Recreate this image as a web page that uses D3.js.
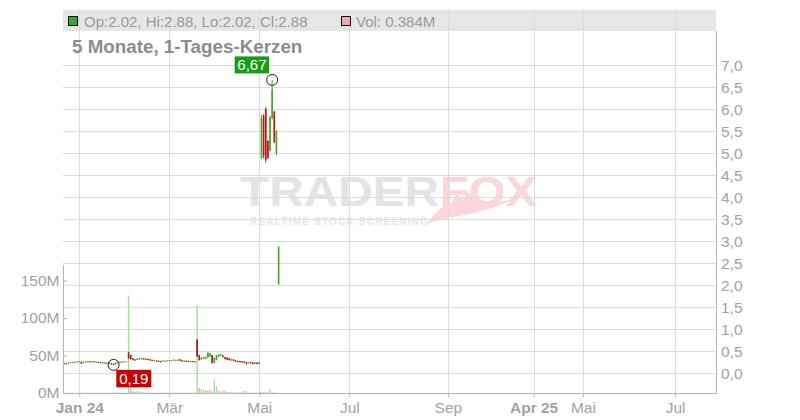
<!DOCTYPE html>
<html><head><meta charset="utf-8">
<script src="https://cdn.jsdelivr.net/npm/d3@7"></script>
<style>
html,body{margin:0;padding:0;background:#fff;}
svg{display:block;font-family:"Liberation Sans",Arial,sans-serif;}
</style></head><body>
<svg id="c" width="800" height="420"></svg>
<script>
// trading-day index of first candle (0 = first trading day of Jan 2024)
const firstIndex = -7;
const opens  = [.23,.22,.22,.23,.24,.25,.25,.26,.26,.23,.25,.26,.27,.26,.27,.25,.26,.25,.24,.24,.23,.24,.22,.21,.20,.23,.24,.25,.25,.26,
                .47,.41,.34,.31,.30,.31,.32,.34,.33,.32,.31,.30,.29,.29,.28,.27,.27,.28,.27,.28,.28,.29,.30,.29,.31,.29,.28,.28,.28,.27,.27,.27,
                .76,.41,.31,.32,.33,.36,.38,.41,.24,.30,.37,.40,.40,.37,.35,.34,.30,.31,.29,.28,.27,.27,.26,.25,.23,.25,.24,.22,.24,.21,
                4.90,5.85,6.00,5.28,5.06,5.80,5.95,5.00,2.02];
const highs  = [.23,.22,.24,.25,.26,.26,.27,.27,.26,.26,.27,.27,.27,.27,.27,.26,.26,.25,.25,.24,.24,.24,.23,.22,.24,.26,.26,.27,.27,.27,
                .48,.42,.34,.32,.33,.35,.35,.34,.33,.33,.32,.31,.30,.29,.29,.28,.29,.29,.29,.30,.30,.31,.31,.31,.32,.30,.29,.29,.28,.28,.27,.27,
                .77,.42,.36,.37,.38,.48,.46,.42,.36,.42,.43,.44,.41,.37,.36,.35,.33,.32,.29,.28,.28,.27,.27,.26,.26,.26,.24,.25,.25,.26,
                5.87,5.89,6.05,5.30,5.85,6.67,5.96,5.53,2.88];
const lows   = [.21,.21,.22,.23,.24,.24,.25,.25,.21,.23,.25,.25,.25,.25,.25,.24,.24,.24,.23,.23,.22,.22,.20,.19,.20,.23,.24,.25,.25,.26,
                .33,.31,.30,.29,.30,.31,.31,.31,.30,.30,.30,.29,.28,.27,.27,.25,.27,.27,.27,.28,.28,.29,.29,.29,.28,.27,.27,.26,.26,.26,.26,.26,
                .37,.29,.31,.32,.32,.35,.37,.22,.22,.29,.36,.39,.36,.31,.30,.29,.28,.27,.26,.25,.25,.24,.23,.20,.22,.22,.20,.21,.20,.21,
                4.87,4.89,4.79,4.87,5.04,5.77,5.23,4.96,2.02];
const closes = [.21,.21,.24,.25,.26,.26,.27,.27,.22,.26,.27,.27,.26,.27,.25,.26,.25,.24,.24,.23,.24,.22,.21,.20,.24,.25,.26,.26,.27,.27,
                .34,.32,.31,.30,.33,.34,.35,.32,.31,.31,.30,.29,.29,.28,.27,.26,.29,.28,.29,.30,.30,.31,.30,.31,.29,.28,.28,.27,.27,.27,.26,.26,
                .38,.30,.35,.36,.37,.46,.45,.24,.35,.41,.42,.43,.37,.33,.31,.30,.32,.28,.27,.26,.26,.25,.24,.22,.25,.23,.21,.24,.21,.25,
                5.80,4.95,4.85,4.90,5.82,6.45,5.25,5.50,2.88];
const volumesM = [.5,.3,.4,.4,.5,.3,.4,.5,.6,.4,.5,.3,.4,.3,.5,.3,.4,.3,.3,.4,.3,.5,.6,.8,.9,.6,.5,.4,.5,.6,
                130,6,2.5,1.5,2,2.5,1.2,1,.8,.7,.6,.6,.5,.5,.6,.7,.5,.4,.5,.6,.5,.6,.4,.5,.7,.5,.4,.5,.4,.4,.5,.6,
                117,7,5.3,3.6,3.6,3.5,3.5,2,18,8.4,3,1.5,2.8,2.8,1.5,1,1,1,.8,.7,.6,.6,2.5,2,.6,.5,.6,.5,.6,.8,
                1.5,1.0,0.8,0.8,5.3,1.0,0.6,0.5,0.384];

const xTickIndex  = [0, 42, 84, 126, 172, 212, 235, 278];
const xTickLabels = ["Jan 24","Mär","Mai","Jul","Sep","Apr 25","Mai","Jul"];
const xTickBold   = [true,false,false,false,false,true,false,false];
const priceTicks  = [0,0.5,1,1.5,2,2.5,3,3.5,4,4.5,5,5.5,6,6.5,7];
const volumeTicks = [0,50,100,150];
const titleText = "5 Monate, 1-Tages-Kerzen";

const data = opens.map((o,k)=>({i:firstIndex+k,o,h:highs[k],l:lows[k],c:closes[k],v:volumesM[k],
  up: closes[k] >= (k>0 ? closes[k-1] : o)}));

const L=63, R=716, T=31, B=393;
const svg = d3.select("#c");
const x  = d3.scaleLinear().domain([-7.6, 297.1]).range([L, R]);
const yP = d3.scaleLinear().domain([0, 7]).range([373.2, 65.4]);
const yV = d3.scaleLinear().domain([0, 150]).range([B, 280.5]);
const comma = f => s => d3.format(f)(s).replace(".", ",");
const txtCol = "#a2a2a2", gridCol = "#dcdcdc", axisCol = "#b4b4b4";
const GREEN = "#45a82c", RED = "#b81414";

// header band
svg.append("rect").attr("x",L).attr("y",10).attr("width",R-L).attr("height",21).attr("fill","#e6e6e6");

// watermark
const wm = svg.append("g");
wm.append("path")
  .attr("d","M427,224 C450,214 490,217 532,188 C515,203 494,204 474,199 L468,192 L463,199 L456,194 L452,201 C442,206 434,214 427,224 Z")
  .attr("fill","#fbd6da");
wm.append("text").attr("x",240).attr("y",206).attr("font-size",42).attr("font-weight",900)
  .attr("textLength",199).attr("lengthAdjust","spacingAndGlyphs").attr("fill","#e4e4e4").text("TRADER");
wm.append("text").attr("x",440).attr("y",206).attr("font-size",42).attr("font-weight",900)
  .attr("textLength",97).attr("lengthAdjust","spacingAndGlyphs").attr("fill","#fcd6da").text("FOX");
wm.append("text").attr("x",250).attr("y",224.5).attr("font-size",10).attr("font-weight",700)
  .attr("textLength",178).attr("lengthAdjust","spacing").attr("fill","#e6e6e6").text("REALTIME STOCK SCREENING");

// grid
svg.append("g").selectAll("line").data(priceTicks).join("line")
  .attr("x1",L).attr("x2",R).attr("y1",d=>Math.round(yP(d))+0.5).attr("y2",d=>Math.round(yP(d))+0.5)
  .attr("stroke",gridCol);
svg.append("g").selectAll("line").data(xTickIndex).join("line")
  .attr("x1",d=>Math.round(x(d))+0.5).attr("x2",d=>Math.round(x(d))+0.5).attr("y1",10).attr("y2",B)
  .attr("stroke",gridCol);

// volume bars
svg.append("g").selectAll("rect").data(data).join("rect")
  .attr("x",d=>x(d.i)-0.7).attr("width",1.4)
  .attr("y",d=>yV(d.v)).attr("height",d=>B-yV(d.v))
  .attr("fill",d=>d.up?"#a4dc98":"#f2a9b0");

// candles
const cg = svg.append("g");
cg.selectAll("line").data(data).join("line")
  .attr("x1",d=>x(d.i)).attr("x2",d=>x(d.i)).attr("y1",d=>yP(d.h)).attr("y2",d=>yP(d.l))
  .attr("stroke",d=>d.c>=d.o?GREEN:RED).attr("stroke-width",1);
cg.selectAll("rect").data(data).join("rect")
  .attr("x",d=>x(d.i)-0.8).attr("width",1.6)
  .attr("y",d=>yP(Math.max(d.o,d.c)))
  .attr("height",d=>Math.max(1,Math.abs(yP(d.o)-yP(d.c))))
  .attr("fill",d=>d.c>=d.o?GREEN:RED);

// axes
const gR = svg.append("g").attr("transform",`translate(${R},0)`)
  .call(d3.axisRight(yP).tickValues(priceTicks).tickSize(0).tickPadding(5).tickFormat(comma(".1f")));
const gL = svg.append("g").attr("transform",`translate(${L},0)`)
  .call(d3.axisLeft(yV).tickValues(volumeTicks).tickSizeInner(-4).tickSizeOuter(0).tickPadding(3.5).tickFormat(d=>d+"M"));
const gB = svg.append("g").attr("transform",`translate(0,${B})`)
  .call(d3.axisBottom(x).tickValues(xTickIndex).tickSize(4).tickPadding(5).tickFormat((d,k)=>xTickLabels[k]));
[gR,gL,gB].forEach(g=>{
  g.select(".domain").remove();
  g.selectAll("text").attr("fill",txtCol).attr("font-size","15.5px").attr("font-family","Liberation Sans, Arial, sans-serif");
  g.selectAll(".tick line").attr("stroke",axisCol);
});
gB.selectAll("text").attr("font-weight",(d,k)=>xTickBold[k]?"700":"400");
svg.append("line").attr("x1",R+0.5).attr("x2",R+0.5).attr("y1",T).attr("y2",B).attr("stroke",axisCol);
svg.append("line").attr("x1",L+0.5).attr("x2",L+0.5).attr("y1",265).attr("y2",B).attr("stroke",axisCol);
svg.append("line").attr("x1",L).attr("x2",R+1).attr("y1",B+0.5).attr("y2",B+0.5).attr("stroke",axisCol);

// header texts
const last = data[data.length-1];
const f2 = d3.format(".2f");
svg.append("rect").attr("x",68.5).attr("y",16.5).attr("width",9).attr("height",9)
  .attr("fill",last.c>=last.o?"#3fa534":"#c01010").attr("stroke","#111");
svg.append("text").attr("x",84).attr("y",26.5).attr("font-size","15px").attr("fill","#9a9a9a")
  .text(`Op:${f2(last.o)}, Hi:${f2(last.h)}, Lo:${f2(last.l)}, Cl:${f2(last.c)}`);
svg.append("rect").attr("x",341.5).attr("y",16.5).attr("width",9).attr("height",9)
  .attr("fill","#f0aab2").attr("stroke","#111");
svg.append("text").attr("x",356).attr("y",26.5).attr("font-size","15px").attr("fill","#9a9a9a")
  .text(`Vol: ${d3.format(".3f")(last.v)}M`);
svg.append("text").attr("x",72).attr("y",53.3).attr("font-size","18.8px").attr("font-weight",700)
  .attr("fill","#8c8c8c").text(titleText);

// extremes markers
const hiD = data.reduce((a,b)=>b.h>a.h?b:a);
const loD = data.reduce((a,b)=>b.l<a.l?b:a);
const hx = x(hiD.i), hy = yP(hiD.h), lx = x(loD.i), ly = yP(loD.l);
svg.append("rect").attr("x",hx-37.5).attr("y",hy-23.5).attr("width",34.5).attr("height",17).attr("fill","#169c16");
svg.append("text").attr("x",hx-20.2).attr("y",hy-9.5).attr("text-anchor","middle").attr("font-size","15px")
  .attr("fill","#fff").text(comma(".2f")(hiD.h));
svg.append("circle").attr("cx",hx).attr("cy",hy).attr("r",5.5).attr("fill","none").attr("stroke","#222");
svg.append("rect").attr("x",lx+2.7).attr("y",ly+5).attr("width",35).attr("height",17.5).attr("fill","#cc0000");
svg.append("text").attr("x",lx+20.2).attr("y",ly+19.5).attr("text-anchor","middle").attr("font-size","15px")
  .attr("fill","#fff").text(comma(".2f")(loD.l));
svg.append("circle").attr("cx",lx).attr("cy",ly).attr("r",5.5).attr("fill","none").attr("stroke","#222");
</script>
</body></html>
